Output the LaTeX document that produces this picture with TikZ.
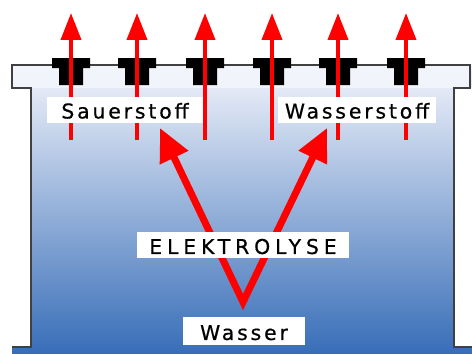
\documentclass[tikz,border=0pt]{standalone}
\usepackage{fontspec}
\usetikzlibrary{arrows.meta}
\newfontfamily\labfont[LetterSpace=14,FakeBold=0.6]{DejaVu Sans}
\newfontfamily\capfont[LetterSpace=24,FakeBold=0.6]{DejaVu Sans}
\definecolor{topc}{RGB}{242,244,251}
\definecolor{midc}{RGB}{168,182,222}
\definecolor{botc}{RGB}{56,110,184}
\definecolor{arrowred}{RGB}{255,0,0}
\tikzset{
  lab/.style={fill=white, inner sep=0pt, minimum height=14.8pt, text height=10.2pt, text depth=0pt,
    font=\labfont\fontsize{11.6pt}{12pt}\selectfont},
  caplab/.style={lab, font=\capfont\fontsize{11.6pt}{12pt}\selectfont},
  gas/.style={draw=arrowred, line width=2.3pt, -{Triangle[length=15.3pt,width=11.3pt]}},
  bigv/.style={draw=arrowred, line width=4pt, line join=miter,
    {Triangle[length=18.7pt,width=17pt]}-{Triangle[length=18.7pt,width=17pt]}},
  wall/.style={draw=black!75, line width=1.2pt},
  electrode/.style={fill=black},
}
\begin{document}
\begin{tikzpicture}[x=0.02cm,y=-0.02cm]
\useasboundingbox (0,0) rectangle (472,353);
\fill[white] (0,0) rectangle (472,353);
% liquid body with gradient
\shade[top color=topc, middle color=midc, bottom color=botc] (12,65) rectangle (472,353);
\fill[topc] (12,65) rectangle (470,88);
% side strips
\fill[white] (12,88) rectangle (31,347);
\fill[white] (454,88) rectangle (472,347);
\draw[wall] (12,347) -- (31,347) -- (31,88) -- (12,88) -- (12,65) -- (470,65) -- (470,88) -- (454,88) -- (454,347) -- (472,347);
% electrodes
\foreach \c in {71,137,205,272,338,406} {
  \fill[electrode] (\c-19,58) -- (\c+19,58) -- (\c+19,68) -- (\c+12,68) -- (\c+12,85)
     -- (\c-12,85) -- (\c-12,68) -- (\c-19,68) -- cycle;
}
% rising gas arrows
\foreach \c [count=\i] in {71,137,205,272,338,406} {
  \coordinate (s\i) at (\c,140);
  \coordinate (t\i) at (\c,13);
  \draw[gas] (s\i) -- (t\i);
}
% electrolysis V
\coordinate (v) at (243,302);
\coordinate (o2tip) at (160,128);
\coordinate (h2tip) at (327,128);
\draw[bigv] (o2tip) -- (v) -- (h2tip);
% labels
\node[lab, minimum width=88.4pt] (o2lab) at (125,109.5) {Sauerstoff};
\node[lab, minimum width=89.6pt] (h2lab) at (357,109.5) {Wasserstoff};
\node[caplab, minimum width=120.8pt] (elab) at (243,245) {ELEKTROLYSE};
\node[lab, minimum width=69.2pt, minimum height=15.9pt] (wlab) at (244,331) {Wasser};
\end{tikzpicture}
\end{document}
